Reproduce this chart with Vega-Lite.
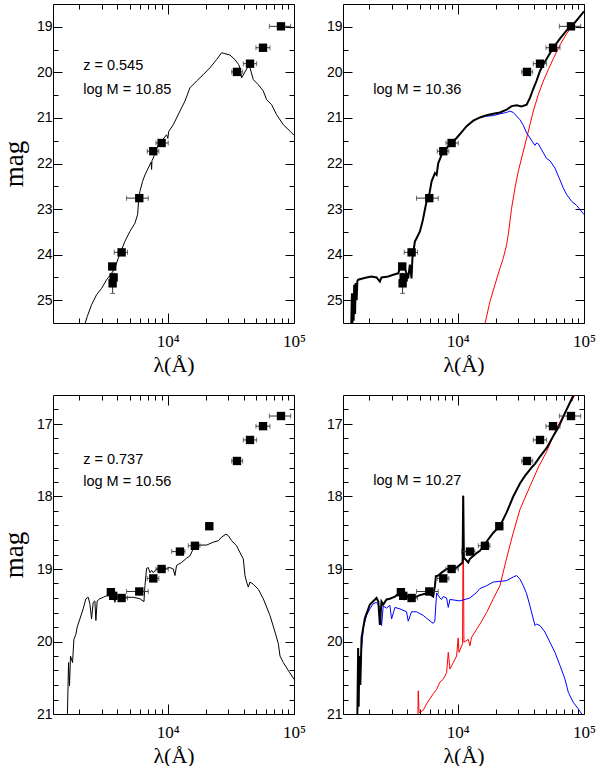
{
"$schema": "https://vega.github.io/schema/vega-lite/v6.json",
"padding": {"left": 0, "top": 3, "right": 0, "bottom": 0},
"config": {"view": {"stroke": null}, "font": "Liberation Sans",
  "axis": {"grid": false, "domainColor": "black", "tickColor": "black", "labelColor": "black", "titleColor": "black", "labelOverlap": false, "labelFlush": false, "titleFontWeight": "normal", "domainWidth": 1, "tickWidth": 1}},
"datasets": {
"tl_model": [
{"lam":2180,"mag":25.62},{"lam":2218,"mag":25.52},{"lam":2312,"mag":25.36},{"lam":2503,"mag":25.10},{"lam":2742,"mag":24.88},{"lam":3005,"mag":24.74},{"lam":3291,"mag":24.55},{"lam":3604,"mag":24.41},{"lam":3828,"mag":24.30},{"lam":4066,"mag":24.08},{"lam":4323,"mag":23.89},{"lam":4594,"mag":23.71},{"lam":5034,"mag":23.49},{"lam":5515,"mag":23.31},{"lam":5790,"mag":23.12},{"lam":5894,"mag":22.83},{"lam":6040,"mag":22.61},{"lam":6345,"mag":22.39},{"lam":6620,"mag":22.25},{"lam":7030,"mag":22.10},{"lam":7400,"mag":21.97},{"lam":7470,"mag":22.13},{"lam":7530,"mag":21.93},{"lam":7706,"mag":21.88},{"lam":8184,"mag":21.66},{"lam":8695,"mag":21.55},{"lam":9820,"mag":21.37},{"lam":10050,"mag":21.45},{"lam":10200,"mag":21.30},{"lam":11090,"mag":21.15},{"lam":12520,"mag":20.85},{"lam":13720,"mag":20.63},{"lam":15020,"mag":20.34},{"lam":16980,"mag":20.19},{"lam":19150,"mag":20.05},{"lam":21630,"mag":19.90},{"lam":24430,"mag":19.72},{"lam":26740,"mag":19.57},{"lam":28430,"mag":19.59},{"lam":31140,"mag":19.62},{"lam":34120,"mag":19.72},{"lam":36500,"mag":19.83},{"lam":36910,"mag":19.86},{"lam":38540,"mag":20.12},{"lam":40950,"mag":19.99},{"lam":43520,"mag":19.86},{"lam":44840,"mag":19.90},{"lam":47660,"mag":20.16},{"lam":52210,"mag":20.27},{"lam":57150,"mag":20.41},{"lam":60760,"mag":20.60},{"lam":66540,"mag":20.71},{"lam":72880,"mag":20.93},{"lam":82350,"mag":21.15},{"lam":92950,"mag":21.29},{"lam":100000,"mag":21.38}],
"tr_black": [
{"lam":1440,"mag":25.6},{"lam":1449,"mag":25.20},{"lam":1460,"mag":24.85},{"lam":1470,"mag":25.5},{"lam":1494,"mag":24.95},{"lam":1505,"mag":25.45},{"lam":1520,"mag":24.66},{"lam":1545,"mag":25.3},{"lam":1560,"mag":24.62},{"lam":1590,"mag":25.0},{"lam":1610,"mag":24.58},{"lam":1636,"mag":24.55},{"lam":1738,"mag":24.53},{"lam":1905,"mag":24.50},{"lam":2085,"mag":24.48},{"lam":2285,"mag":24.50},{"lam":2427,"mag":24.59},{"lam":2500,"mag":24.50},{"lam":2827,"mag":24.48},{"lam":3097,"mag":24.44},{"lam":3391,"mag":24.41},{"lam":3496,"mag":24.30},{"lam":3716,"mag":24.22},{"lam":3899,"mag":24.37},{"lam":4066,"mag":24.52},{"lam":4190,"mag":24.22},{"lam":4322,"mag":24.52},{"lam":4390,"mag":24.08},{"lam":4596,"mag":23.71},{"lam":4736,"mag":23.64},{"lam":5034,"mag":23.49},{"lam":5284,"mag":23.27},{"lam":5515,"mag":23.01},{"lam":5685,"mag":22.83},{"lam":5970,"mag":22.68},{"lam":6228,"mag":22.39},{"lam":6618,"mag":22.21},{"lam":6825,"mag":22.25},{"lam":7033,"mag":21.99},{"lam":7473,"mag":21.81},{"lam":7704,"mag":21.77},{"lam":8186,"mag":21.66},{"lam":8966,"mag":21.55},{"lam":9820,"mag":21.44},{"lam":10760,"mag":21.31},{"lam":11790,"mag":21.18},{"lam":13310,"mag":21.06},{"lam":15020,"mag":20.99},{"lam":16970,"mag":20.94},{"lam":19150,"mag":20.91},{"lam":21630,"mag":20.88},{"lam":24430,"mag":20.82},{"lam":26750,"mag":20.74},{"lam":29310,"mag":20.72},{"lam":32100,"mag":20.75},{"lam":35160,"mag":20.71},{"lam":37370,"mag":20.56},{"lam":39710,"mag":20.36},{"lam":42200,"mag":20.18},{"lam":44840,"mag":19.97},{"lam":47650,"mag":19.83},{"lam":52190,"mag":19.64},{"lam":57160,"mag":19.46},{"lam":64540,"mag":19.26},{"lam":72870,"mag":19.08},{"lam":79840,"mag":18.99},{"lam":87450,"mag":18.86},{"lam":100000,"mag":18.66}],
"tr_blue": [
{"lam":13310,"mag":21.06},{"lam":15020,"mag":20.99},{"lam":16970,"mag":20.96},{"lam":19150,"mag":20.95},{"lam":21630,"mag":20.91},{"lam":24430,"mag":20.88},{"lam":25950,"mag":20.85},{"lam":27580,"mag":20.88},{"lam":29310,"mag":20.96},{"lam":31140,"mag":21.04},{"lam":33090,"mag":21.16},{"lam":35160,"mag":21.33},{"lam":37370,"mag":21.44},{"lam":39710,"mag":21.55},{"lam":40940,"mag":21.60},{"lam":42200,"mag":21.55},{"lam":43500,"mag":21.57},{"lam":46220,"mag":21.70},{"lam":50630,"mag":21.89},{"lam":53800,"mag":21.94},{"lam":58920,"mag":22.10},{"lam":64540,"mag":22.36},{"lam":68580,"mag":22.54},{"lam":72870,"mag":22.68},{"lam":79840,"mag":22.83},{"lam":87450,"mag":22.92},{"lam":100000,"mag":23.12}],
"tr_red": [
{"lam":16000,"mag":25.7},{"lam":16450,"mag":25.52},{"lam":18030,"mag":25.03},{"lam":19750,"mag":24.66},{"lam":21630,"mag":24.30},{"lam":22970,"mag":24.08},{"lam":24430,"mag":23.78},{"lam":25180,"mag":23.56},{"lam":26750,"mag":22.98},{"lam":28430,"mag":22.54},{"lam":30210,"mag":22.17},{"lam":32100,"mag":21.88},{"lam":34110,"mag":21.59},{"lam":37370,"mag":21.15},{"lam":39710,"mag":20.85},{"lam":43500,"mag":20.49},{"lam":47650,"mag":20.19},{"lam":52190,"mag":19.94},{"lam":57160,"mag":19.70},{"lam":64540,"mag":19.40},{"lam":72870,"mag":19.15},{"lam":82300,"mag":18.96},{"lam":100000,"mag":18.66}],
"bl_model": [
{"lam":1610,"mag":21.05},{"lam":1646,"mag":20.29},{"lam":1675,"mag":20.61},{"lam":1706,"mag":20.20},{"lam":1770,"mag":20.29},{"lam":1815,"mag":19.97},{"lam":1881,"mag":19.90},{"lam":1927,"mag":19.80},{"lam":2023,"mag":19.69},{"lam":2149,"mag":19.55},{"lam":2258,"mag":19.41},{"lam":2356,"mag":19.39},{"lam":2428,"mag":19.48},{"lam":2503,"mag":19.69},{"lam":2580,"mag":19.46},{"lam":2659,"mag":19.44},{"lam":2708,"mag":19.71},{"lam":2774,"mag":19.44},{"lam":2912,"mag":19.41},{"lam":3097,"mag":19.39},{"lam":3291,"mag":19.37},{"lam":3497,"mag":19.34},{"lam":3700,"mag":19.36},{"lam":3828,"mag":19.46},{"lam":3950,"mag":19.37},{"lam":4195,"mag":19.39},{"lam":4736,"mag":19.39},{"lam":5345,"mag":19.39},{"lam":6040,"mag":19.41},{"lam":6500,"mag":19.45},{"lam":6620,"mag":19.23},{"lam":6825,"mag":18.99},{"lam":7034,"mag":18.98},{"lam":7250,"mag":19.05},{"lam":7473,"mag":19.02},{"lam":7706,"mag":19.05},{"lam":8186,"mag":19.00},{"lam":8695,"mag":19.00},{"lam":9240,"mag":18.99},{"lam":9820,"mag":18.99},{"lam":10430,"mag":18.98},{"lam":11090,"mag":19.00},{"lam":11430,"mag":19.09},{"lam":11780,"mag":18.95},{"lam":12910,"mag":18.91},{"lam":14140,"mag":18.85},{"lam":15020,"mag":18.82},{"lam":15960,"mag":18.72},{"lam":16970,"mag":18.68},{"lam":18030,"mag":18.67},{"lam":20370,"mag":18.67},{"lam":22970,"mag":18.63},{"lam":25180,"mag":18.61},{"lam":26750,"mag":18.56},{"lam":28950,"mag":18.52},{"lam":30210,"mag":18.54},{"lam":32100,"mag":18.61},{"lam":35160,"mag":18.68},{"lam":38540,"mag":18.82},{"lam":39710,"mag":18.86},{"lam":40940,"mag":19.09},{"lam":42200,"mag":19.18},{"lam":43500,"mag":19.25},{"lam":44840,"mag":19.18},{"lam":47650,"mag":19.21},{"lam":52190,"mag":19.28},{"lam":57160,"mag":19.41},{"lam":64540,"mag":19.64},{"lam":70780,"mag":19.87},{"lam":75160,"mag":20.03},{"lam":77490,"mag":20.20},{"lam":82300,"mag":20.29},{"lam":90190,"mag":20.40},{"lam":100000,"mag":20.52}],
"br_black": [
{"lam":1610,"mag":21.05},{"lam":1634,"mag":20.09},{"lam":1650,"mag":20.9},{"lam":1670,"mag":20.2},{"lam":1700,"mag":20.6},{"lam":1738,"mag":19.95},{"lam":1846,"mag":19.68},{"lam":2023,"mag":19.49},{"lam":2285,"mag":19.40},{"lam":2360,"mag":19.45},{"lam":2427,"mag":19.77},{"lam":2500,"mag":19.45},{"lam":2578,"mag":19.49},{"lam":2742,"mag":19.42},{"lam":2912,"mag":19.41},{"lam":3193,"mag":19.38},{"lam":3490,"mag":19.33},{"lam":3948,"mag":19.37},{"lam":4323,"mag":19.39},{"lam":4730,"mag":19.38},{"lam":5034,"mag":19.36},{"lam":5850,"mag":19.33},{"lam":6410,"mag":19.38},{"lam":6620,"mag":19.23},{"lam":6730,"mag":19.10},{"lam":7033,"mag":19.09},{"lam":7473,"mag":19.05},{"lam":8186,"mag":19.00},{"lam":9230,"mag":18.99},{"lam":9820,"mag":18.98},{"lam":10310,"mag":18.95},{"lam":10950,"mag":18.91},{"lam":11080,"mag":17.99},{"lam":11220,"mag":18.86},{"lam":11430,"mag":18.86},{"lam":12140,"mag":18.91},{"lam":12520,"mag":18.86},{"lam":13310,"mag":18.82},{"lam":14140,"mag":18.78},{"lam":15010,"mag":18.75},{"lam":16450,"mag":18.66},{"lam":17490,"mag":18.59},{"lam":19150,"mag":18.50},{"lam":21610,"mag":18.41},{"lam":24430,"mag":18.22},{"lam":27560,"mag":18.00},{"lam":31140,"mag":17.82},{"lam":34000,"mag":17.72},{"lam":37360,"mag":17.63},{"lam":38500,"mag":17.60},{"lam":40920,"mag":17.55},{"lam":44840,"mag":17.45},{"lam":50700,"mag":17.33},{"lam":57000,"mag":17.17},{"lam":62660,"mag":17.05},{"lam":72000,"mag":16.82},{"lam":82200,"mag":16.61},{"lam":90000,"mag":16.47}],
"br_blue": [
{"lam":1700,"mag":20.4},{"lam":1738,"mag":20.1},{"lam":1800,"mag":19.8},{"lam":1905,"mag":19.64},{"lam":2023,"mag":19.55},{"lam":2149,"mag":19.48},{"lam":2285,"mag":19.46},{"lam":2428,"mag":19.53},{"lam":2503,"mag":19.78},{"lam":2580,"mag":19.51},{"lam":2742,"mag":19.54},{"lam":2912,"mag":19.50},{"lam":3005,"mag":19.69},{"lam":3193,"mag":19.53},{"lam":3497,"mag":19.55},{"lam":3948,"mag":19.59},{"lam":4066,"mag":19.72},{"lam":4323,"mag":19.59},{"lam":4730,"mag":19.59},{"lam":5345,"mag":19.64},{"lam":5690,"mag":19.68},{"lam":6410,"mag":19.75},{"lam":6600,"mag":19.72},{"lam":6825,"mag":19.33},{"lam":7250,"mag":19.40},{"lam":7473,"mag":19.42},{"lam":7704,"mag":19.38},{"lam":8186,"mag":19.40},{"lam":8439,"mag":19.53},{"lam":8700,"mag":19.42},{"lam":10430,"mag":19.44},{"lam":12500,"mag":19.40},{"lam":14000,"mag":19.33},{"lam":15020,"mag":19.27},{"lam":16970,"mag":19.23},{"lam":19150,"mag":19.18},{"lam":21630,"mag":19.17},{"lam":24430,"mag":19.16},{"lam":27580,"mag":19.11},{"lam":29310,"mag":19.09},{"lam":31140,"mag":19.14},{"lam":33090,"mag":19.23},{"lam":35160,"mag":19.34},{"lam":37370,"mag":19.51},{"lam":39710,"mag":19.69},{"lam":40940,"mag":19.78},{"lam":42200,"mag":19.76},{"lam":44840,"mag":19.78},{"lam":49120,"mag":19.87},{"lam":53800,"mag":20.01},{"lam":58920,"mag":20.15},{"lam":64540,"mag":20.33},{"lam":70780,"mag":20.52},{"lam":75160,"mag":20.70},{"lam":82300,"mag":20.84},{"lam":90190,"mag":20.93},{"lam":95920,"mag":21.0},{"lam":100000,"mag":21.05}],
"br_red": [
{"lam":4850,"mag":21.05},{"lam":4883,"mag":20.68},{"lam":4960,"mag":20.98},{"lam":5345,"mag":20.95},{"lam":5685,"mag":20.86},{"lam":6040,"mag":20.79},{"lam":6420,"mag":20.72},{"lam":6825,"mag":20.66},{"lam":7250,"mag":20.56},{"lam":7704,"mag":20.52},{"lam":8186,"mag":20.43},{"lam":8439,"mag":20.15},{"lam":8696,"mag":20.38},{"lam":9240,"mag":20.29},{"lam":9820,"mag":20.20},{"lam":10110,"mag":19.95},{"lam":10250,"mag":20.15},{"lam":10950,"mag":20.03},{"lam":11080,"mag":17.99},{"lam":11220,"mag":20.01},{"lam":12140,"mag":19.97},{"lam":12520,"mag":20.06},{"lam":12910,"mag":19.94},{"lam":13720,"mag":19.87},{"lam":14140,"mag":19.83},{"lam":15020,"mag":19.76},{"lam":16970,"mag":19.60},{"lam":19150,"mag":19.41},{"lam":21630,"mag":19.23},{"lam":24430,"mag":18.85},{"lam":27560,"mag":18.50},{"lam":31140,"mag":18.18},{"lam":37360,"mag":17.86},{"lam":44000,"mag":17.58},{"lam":50700,"mag":17.38},{"lam":59630,"mag":17.09},{"lam":72520,"mag":16.80},{"lam":84800,"mag":16.60},{"lam":95000,"mag":16.42}],
"top_obs": [
{"lam":3648,"mag":24.26},{"lam":3741,"mag":24.50},{"lam":3673,"mag":24.63,"mlo":24.41,"mhi":24.85},{"lam":4327,"mag":23.95,"lo":3785,"hi":4819},{"lam":5970,"mag":22.76,"lo":4734,"hi":7032},{"lam":7706,"mag":21.73,"lo":6900,"hi":8530},{"lam":8966,"mag":21.55,"lo":8090,"hi":10120},{"lam":35390,"mag":19.99,"lo":32140,"hi":39270},{"lam":44880,"mag":19.81,"lo":39720,"hi":50610},{"lam":56880,"mag":19.46,"lo":50000,"hi":64570},{"lam":78890,"mag":18.99,"lo":63830,"hi":94130}],
"bot_obs": [
{"lam":3558,"mag":19.32},{"lam":3715,"mag":19.37},{"lam":4327,"mag":19.40,"lo":3785,"hi":4819},{"lam":5970,"mag":19.31,"lo":4734,"hi":7032},{"lam":7706,"mag":19.13,"lo":6900,"hi":8530},{"lam":8966,"mag":19.00,"lo":8090,"hi":10120},{"lam":12520,"mag":18.76,"lo":10770,"hi":13710},{"lam":16450,"mag":18.68,"lo":14580,"hi":18030},{"lam":21380,"mag":18.41},{"lam":35390,"mag":17.51,"lo":32140,"hi":39270},{"lam":44880,"mag":17.22,"lo":39720,"hi":50610},{"lam":56880,"mag":17.03,"lo":50000,"hi":64570},{"lam":78890,"mag":16.89,"lo":63830,"hi":94130}],
"labels": [
{"panel":"tl","lam":2148,"mag":19.86,"label":"z = 0.545"},{"panel":"tl","lam":2148,"mag":20.39,"label":"log M = 10.85"},
{"panel":"tr","lam":2148,"mag":20.39,"label":"log M = 10.36"},
{"panel":"bl","lam":2148,"mag":17.49,"label":"z = 0.737"},{"panel":"bl","lam":2148,"mag":17.80,"label":"log M = 10.56"},
{"panel":"br","lam":2148,"mag":17.78,"label":"log M = 10.27"}]
},
"columns": 2,
"spacing": {"row": 72, "column": 49},
"bounds": "flush",
"concat": [
{"width": 241, "height": 319,
 "layer": [
  {"data": {"name": "tl_model"}, "mark": {"type": "line", "color": "black", "strokeWidth": 1, "clip": true},
   "encoding": {
    "x": {"field": "lam", "type": "quantitative", "scale": {"type": "log", "domain": [1240, 100000], "nice": false},
      "axis": {"orient": "bottom", "values": [2000,3000,4000,5000,6000,7000,8000,9000,10000,20000,30000,40000,50000,60000,70000,80000,90000,100000], "labelExpr": "datum.value == 10000 ? '10⁴' : (datum.value == 100000 ? '10⁵' : '')", "tickSize": {"condition": {"test": "datum.value == 10000 || datum.value == 100000", "value": -10}, "value": -5}, "labelPadding": 20, "labelFont": "Liberation Serif", "labelFontSize": 17, "title": "λ(Å)", "titleFont": "Liberation Serif", "titleFontSize": 22, "titlePadding": 0}},
    "y": {"field": "mag", "type": "quantitative", "scale": {"domain": [18.5, 25.5], "reverse": true, "nice": false, "zero": false},
      "axis": {"orient": "left", "values": [19,19.5,20,20.5,21,21.5,22,22.5,23,23.5,24,24.5,25], "labelExpr": "datum.value % 1 == 0 ? format(datum.value, 'd') : ''", "tickSize": {"condition": {"test": "datum.value % 1 == 0", "value": -9}, "value": -5}, "labelPadding": 10, "labelFont": "Liberation Sans", "labelFontSize": 14, "title": "mag", "titleFont": "Liberation Serif", "titleFontSize": 27, "titlePadding": 8}}
   }},
  {"data": {"name": "top_obs"}, "transform": [{"filter": "isValid(datum.lo)"}],
   "mark": {"type": "errorbar", "ticks": true, "color": "#333"},
   "encoding": {"x": {"field": "lo", "type": "quantitative", "axis": null}, "x2": {"field": "hi"}, "y": {"field": "mag", "type": "quantitative", "axis": null}}},
  {"data": {"name": "top_obs"}, "transform": [{"filter": "isValid(datum.mlo)"}],
   "mark": {"type": "errorbar", "ticks": true, "color": "#333"},
   "encoding": {"x": {"field": "lam", "type": "quantitative", "axis": null}, "y": {"field": "mlo", "type": "quantitative", "axis": null}, "y2": {"field": "mhi"}}},
  {"data": {"name": "top_obs"}, "mark": {"type": "square", "filled": true, "color": "black", "size": 70, "opacity": 1},
   "encoding": {
    "x": {"field": "lam", "type": "quantitative", "axis": {"orient": "top", "values": [2000,3000,4000,5000,6000,7000,8000,9000,10000,20000,30000,40000,50000,60000,70000,80000,90000,100000], "labels": false, "title": null, "tickSize": {"condition": {"test": "datum.value == 10000 || datum.value == 100000", "value": -10}, "value": -5}}},
    "y": {"field": "mag", "type": "quantitative", "axis": {"orient": "right", "values": [19,19.5,20,20.5,21,21.5,22,22.5,23,23.5,24,24.5,25], "labels": false, "title": null, "tickSize": {"condition": {"test": "datum.value % 1 == 0", "value": -9}, "value": -5}}}
   }},
  {"data": {"name": "labels"}, "transform": [{"filter": "datum.panel == 'tl'"}],
   "mark": {"type": "text", "align": "left", "baseline": "middle", "font": "Liberation Sans", "fontSize": 14.5, "color": "black"},
   "encoding": {"x": {"field": "lam", "type": "quantitative", "axis": null}, "y": {"field": "mag", "type": "quantitative", "axis": null}, "text": {"field": "label"}}}
 ],
 "resolve": {"axis": {"x": "independent", "y": "independent"}}
},
{"width": 241, "height": 319,
 "layer": [
  {"data": {"name": "tr_red"}, "mark": {"type": "line", "color": "#ff0000", "strokeWidth": 1, "clip": true},
   "encoding": {
    "x": {"field": "lam", "type": "quantitative", "scale": {"type": "log", "domain": [1240, 100000], "nice": false},
      "axis": {"orient": "bottom", "values": [2000,3000,4000,5000,6000,7000,8000,9000,10000,20000,30000,40000,50000,60000,70000,80000,90000,100000], "labelExpr": "datum.value == 10000 ? '10⁴' : (datum.value == 100000 ? '10⁵' : '')", "tickSize": {"condition": {"test": "datum.value == 10000 || datum.value == 100000", "value": -10}, "value": -5}, "labelPadding": 20, "labelFont": "Liberation Serif", "labelFontSize": 17, "title": "λ(Å)", "titleFont": "Liberation Serif", "titleFontSize": 22, "titlePadding": 0}},
    "y": {"field": "mag", "type": "quantitative", "scale": {"domain": [18.5, 25.5], "reverse": true, "nice": false, "zero": false},
      "axis": {"orient": "left", "values": [19,19.5,20,20.5,21,21.5,22,22.5,23,23.5,24,24.5,25], "labelExpr": "datum.value % 1 == 0 ? format(datum.value, 'd') : ''", "tickSize": {"condition": {"test": "datum.value % 1 == 0", "value": -9}, "value": -5}, "labelPadding": 10, "labelFont": "Liberation Sans", "labelFontSize": 14, "title": null}}
   }},
  {"data": {"name": "tr_blue"}, "mark": {"type": "line", "color": "#0000ff", "strokeWidth": 1, "clip": true},
   "encoding": {"x": {"field": "lam", "type": "quantitative", "axis": null}, "y": {"field": "mag", "type": "quantitative", "axis": null}}},
  {"data": {"name": "tr_black"}, "mark": {"type": "line", "color": "black", "strokeWidth": 2, "clip": true},
   "encoding": {"x": {"field": "lam", "type": "quantitative", "axis": null}, "y": {"field": "mag", "type": "quantitative", "axis": null}}},
  {"data": {"name": "top_obs"}, "transform": [{"filter": "isValid(datum.lo)"}],
   "mark": {"type": "errorbar", "ticks": true, "color": "#333"},
   "encoding": {"x": {"field": "lo", "type": "quantitative", "axis": null}, "x2": {"field": "hi"}, "y": {"field": "mag", "type": "quantitative", "axis": null}}},
  {"data": {"name": "top_obs"}, "transform": [{"filter": "isValid(datum.mlo)"}],
   "mark": {"type": "errorbar", "ticks": true, "color": "#333"},
   "encoding": {"x": {"field": "lam", "type": "quantitative", "axis": null}, "y": {"field": "mlo", "type": "quantitative", "axis": null}, "y2": {"field": "mhi"}}},
  {"data": {"name": "top_obs"}, "mark": {"type": "square", "filled": true, "color": "black", "size": 70, "opacity": 1},
   "encoding": {
    "x": {"field": "lam", "type": "quantitative", "axis": {"orient": "top", "values": [2000,3000,4000,5000,6000,7000,8000,9000,10000,20000,30000,40000,50000,60000,70000,80000,90000,100000], "labels": false, "title": null, "tickSize": {"condition": {"test": "datum.value == 10000 || datum.value == 100000", "value": -10}, "value": -5}}},
    "y": {"field": "mag", "type": "quantitative", "axis": {"orient": "right", "values": [19,19.5,20,20.5,21,21.5,22,22.5,23,23.5,24,24.5,25], "labels": false, "title": null, "tickSize": {"condition": {"test": "datum.value % 1 == 0", "value": -9}, "value": -5}}}
   }},
  {"data": {"name": "labels"}, "transform": [{"filter": "datum.panel == 'tr'"}],
   "mark": {"type": "text", "align": "left", "baseline": "middle", "font": "Liberation Sans", "fontSize": 14.5, "color": "black"},
   "encoding": {"x": {"field": "lam", "type": "quantitative", "axis": null}, "y": {"field": "mag", "type": "quantitative", "axis": null}, "text": {"field": "label"}}}
 ],
 "resolve": {"axis": {"x": "independent", "y": "independent"}}
},
{"width": 241, "height": 319,
 "layer": [
  {"data": {"name": "bl_model"}, "mark": {"type": "line", "color": "black", "strokeWidth": 1, "clip": true},
   "encoding": {
    "x": {"field": "lam", "type": "quantitative", "scale": {"type": "log", "domain": [1240, 100000], "nice": false},
      "axis": {"orient": "bottom", "values": [2000,3000,4000,5000,6000,7000,8000,9000,10000,20000,30000,40000,50000,60000,70000,80000,90000,100000], "labelExpr": "datum.value == 10000 ? '10⁴' : (datum.value == 100000 ? '10⁵' : '')", "tickSize": {"condition": {"test": "datum.value == 10000 || datum.value == 100000", "value": -10}, "value": -5}, "labelPadding": 20, "labelFont": "Liberation Serif", "labelFontSize": 17, "title": "λ(Å)", "titleFont": "Liberation Serif", "titleFontSize": 22, "titlePadding": 0}},
    "y": {"field": "mag", "type": "quantitative", "scale": {"domain": [16.6, 21], "reverse": true, "nice": false, "zero": false},
      "axis": {"orient": "left", "values": [16.8,17,17.2,17.4,17.6,17.8,18,18.2,18.4,18.6,18.8,19,19.2,19.4,19.6,19.8,20,20.2,20.4,20.6,20.8,21], "labelExpr": "datum.value % 1 == 0 ? format(datum.value, 'd') : ''", "tickSize": {"condition": {"test": "datum.value % 1 == 0", "value": -9}, "value": -5}, "labelPadding": 10, "labelFont": "Liberation Sans", "labelFontSize": 14, "title": "mag", "titleFont": "Liberation Serif", "titleFontSize": 27, "titlePadding": 8}}
   }},
  {"data": {"name": "bot_obs"}, "transform": [{"filter": "isValid(datum.lo)"}],
   "mark": {"type": "errorbar", "ticks": true, "color": "#333"},
   "encoding": {"x": {"field": "lo", "type": "quantitative", "axis": null}, "x2": {"field": "hi"}, "y": {"field": "mag", "type": "quantitative", "axis": null}}},
  {"data": {"name": "bot_obs"}, "mark": {"type": "square", "filled": true, "color": "black", "size": 70, "opacity": 1},
   "encoding": {
    "x": {"field": "lam", "type": "quantitative", "axis": {"orient": "top", "values": [2000,3000,4000,5000,6000,7000,8000,9000,10000,20000,30000,40000,50000,60000,70000,80000,90000,100000], "labels": false, "title": null, "tickSize": {"condition": {"test": "datum.value == 10000 || datum.value == 100000", "value": -10}, "value": -5}}},
    "y": {"field": "mag", "type": "quantitative", "axis": {"orient": "right", "values": [16.8,17,17.2,17.4,17.6,17.8,18,18.2,18.4,18.6,18.8,19,19.2,19.4,19.6,19.8,20,20.2,20.4,20.6,20.8,21], "labels": false, "title": null, "tickSize": {"condition": {"test": "datum.value % 1 == 0", "value": -9}, "value": -5}}}
   }},
  {"data": {"name": "labels"}, "transform": [{"filter": "datum.panel == 'bl'"}],
   "mark": {"type": "text", "align": "left", "baseline": "middle", "font": "Liberation Sans", "fontSize": 14.5, "color": "black"},
   "encoding": {"x": {"field": "lam", "type": "quantitative", "axis": null}, "y": {"field": "mag", "type": "quantitative", "axis": null}, "text": {"field": "label"}}}
 ],
 "resolve": {"axis": {"x": "independent", "y": "independent"}}
},
{"width": 241, "height": 319,
 "layer": [
  {"data": {"name": "br_red"}, "mark": {"type": "line", "color": "#ff0000", "strokeWidth": 1, "clip": true},
   "encoding": {
    "x": {"field": "lam", "type": "quantitative", "scale": {"type": "log", "domain": [1240, 100000], "nice": false},
      "axis": {"orient": "bottom", "values": [2000,3000,4000,5000,6000,7000,8000,9000,10000,20000,30000,40000,50000,60000,70000,80000,90000,100000], "labelExpr": "datum.value == 10000 ? '10⁴' : (datum.value == 100000 ? '10⁵' : '')", "tickSize": {"condition": {"test": "datum.value == 10000 || datum.value == 100000", "value": -10}, "value": -5}, "labelPadding": 20, "labelFont": "Liberation Serif", "labelFontSize": 17, "title": "λ(Å)", "titleFont": "Liberation Serif", "titleFontSize": 22, "titlePadding": 0}},
    "y": {"field": "mag", "type": "quantitative", "scale": {"domain": [16.6, 21], "reverse": true, "nice": false, "zero": false},
      "axis": {"orient": "left", "values": [16.8,17,17.2,17.4,17.6,17.8,18,18.2,18.4,18.6,18.8,19,19.2,19.4,19.6,19.8,20,20.2,20.4,20.6,20.8,21], "labelExpr": "datum.value % 1 == 0 ? format(datum.value, 'd') : ''", "tickSize": {"condition": {"test": "datum.value % 1 == 0", "value": -9}, "value": -5}, "labelPadding": 10, "labelFont": "Liberation Sans", "labelFontSize": 14, "title": null}}
   }},
  {"data": {"name": "br_blue"}, "mark": {"type": "line", "color": "#0000ff", "strokeWidth": 1, "clip": true},
   "encoding": {"x": {"field": "lam", "type": "quantitative", "axis": null}, "y": {"field": "mag", "type": "quantitative", "axis": null}}},
  {"data": {"name": "br_black"}, "mark": {"type": "line", "color": "black", "strokeWidth": 2, "clip": true},
   "encoding": {"x": {"field": "lam", "type": "quantitative", "axis": null}, "y": {"field": "mag", "type": "quantitative", "axis": null}}},
  {"data": {"name": "bot_obs"}, "transform": [{"filter": "isValid(datum.lo)"}],
   "mark": {"type": "errorbar", "ticks": true, "color": "#333"},
   "encoding": {"x": {"field": "lo", "type": "quantitative", "axis": null}, "x2": {"field": "hi"}, "y": {"field": "mag", "type": "quantitative", "axis": null}}},
  {"data": {"name": "bot_obs"}, "mark": {"type": "square", "filled": true, "color": "black", "size": 70, "opacity": 1},
   "encoding": {
    "x": {"field": "lam", "type": "quantitative", "axis": {"orient": "top", "values": [2000,3000,4000,5000,6000,7000,8000,9000,10000,20000,30000,40000,50000,60000,70000,80000,90000,100000], "labels": false, "title": null, "tickSize": {"condition": {"test": "datum.value == 10000 || datum.value == 100000", "value": -10}, "value": -5}}},
    "y": {"field": "mag", "type": "quantitative", "axis": {"orient": "right", "values": [16.8,17,17.2,17.4,17.6,17.8,18,18.2,18.4,18.6,18.8,19,19.2,19.4,19.6,19.8,20,20.2,20.4,20.6,20.8,21], "labels": false, "title": null, "tickSize": {"condition": {"test": "datum.value % 1 == 0", "value": -9}, "value": -5}}}
   }},
  {"data": {"name": "labels"}, "transform": [{"filter": "datum.panel == 'br'"}],
   "mark": {"type": "text", "align": "left", "baseline": "middle", "font": "Liberation Sans", "fontSize": 14.5, "color": "black"},
   "encoding": {"x": {"field": "lam", "type": "quantitative", "axis": null}, "y": {"field": "mag", "type": "quantitative", "axis": null}, "text": {"field": "label"}}}
 ],
 "resolve": {"axis": {"x": "independent", "y": "independent"}}
}
]
}
